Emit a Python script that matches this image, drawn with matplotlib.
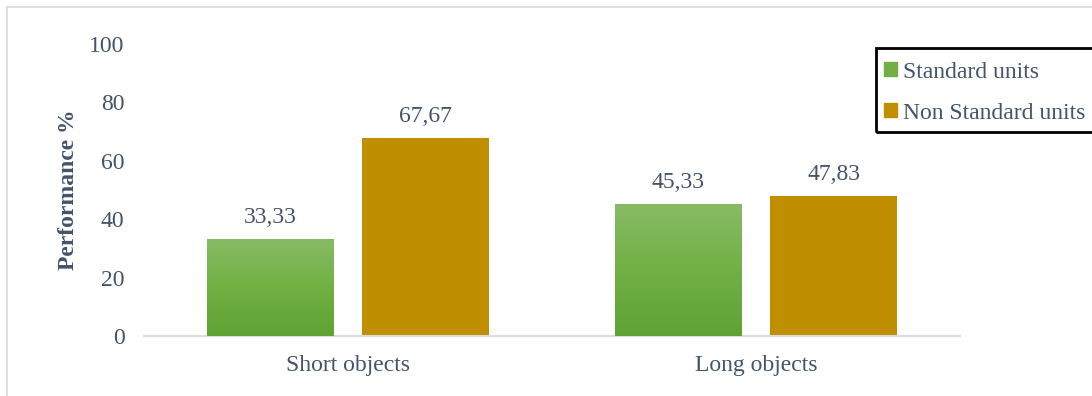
import matplotlib.pyplot as plt
import numpy as np
from matplotlib.lines import Line2D
from matplotlib.patches import Patch, Rectangle
from matplotlib.colors import LinearSegmentedColormap

categories = ["Short objects", "Long objects"]
standard = [33.33, 45.33]
non_standard = [67.67, 47.83]
series_names = ["Standard units", "Non Standard units"]

txt = "#44546A"
gold = "#BF8F00"
fs = 17

plt.rcParams['font.family'] = ['Liberation Serif', 'DejaVu Serif']

fig = plt.figure(figsize=(10.92, 3.96), dpi=100)
ax = fig.add_axes([144 / 1092, 60 / 396, 816 / 1092, 292 / 396])

x = np.arange(len(categories))
w = 0.311
off = 0.191

green_bars = ax.bar(x - off, standard, w, color="#72AE45", zorder=2)
gold_bars = ax.bar(x + off, non_standard, w, color=gold, zorder=2)

# vertical gradient on the green bars
grad = np.linspace(0, 1, 256).reshape(-1, 1)
gcmap = LinearSegmentedColormap.from_list("g", ["#5FA233", "#72B043", "#87BB66"])
for b in green_bars:
    x0, y0 = b.get_x(), b.get_y()
    im = ax.imshow(grad, cmap=gcmap, aspect="auto", origin="lower",
                   extent=[x0, x0 + b.get_width(), y0, y0 + b.get_height()], zorder=3)
    im.set_clip_path(b)

for bars, vals in [(green_bars, standard), (gold_bars, non_standard)]:
    for b, v in zip(bars, vals):
        ax.annotate(f"{v:.2f}".replace(".", ","),
                    (b.get_x() + b.get_width() / 2, v), xytext=(0, 8),
                    textcoords="offset points", ha="center", va="bottom",
                    fontsize=fs, color=txt)

ax.set_xlim(-0.5, 1.5)
ax.set_ylim(0, 100)
ax.set_yticks(range(0, 101, 20))
ax.set_xticks(x)
ax.set_xticklabels(categories)
ax.tick_params(length=0, labelsize=fs, labelcolor=txt)
ax.tick_params(axis="y", pad=14)
ax.tick_params(axis="x", pad=14)
for s in ["top", "right", "left"]:
    ax.spines[s].set_visible(False)
ax.spines["bottom"].set_color("#D9DDE3")
ax.spines["bottom"].set_linewidth(1.5)
ax.set_ylabel("Performance %", fontsize=fs, fontweight="bold", color=txt, labelpad=7)

handles = [Patch(color="#72AE45"), Patch(color=gold)]
leg = fig.legend(handles, series_names, loc="upper left",
                 bbox_to_anchor=(873 / 1092, 1 - 51 / 396), frameon=False,
                 fontsize=fs, handlelength=0.55, handleheight=0.55,
                 handletextpad=0.25, labelspacing=0.85, borderpad=0.45,
                 labelcolor=txt, borderaxespad=0)

# legend box runs off the right edge
fig.add_artist(Rectangle((876 / 1092, 1 - 132 / 396), 240 / 1092, 84 / 396,
                         transform=fig.transFigure, fill=False,
                         edgecolor="black", lw=2, clip_on=False))

# outer chart-area border (left and top edges)
fig.add_artist(Line2D([7 / 1092, 7 / 1092], [0, 1 - 7 / 396], color="#D9D9D9", lw=1.2))
fig.add_artist(Line2D([7 / 1092, 1], [1 - 7 / 396, 1 - 7 / 396], color="#D9D9D9", lw=1.2))

fig.savefig("out.png", dpi=100)
